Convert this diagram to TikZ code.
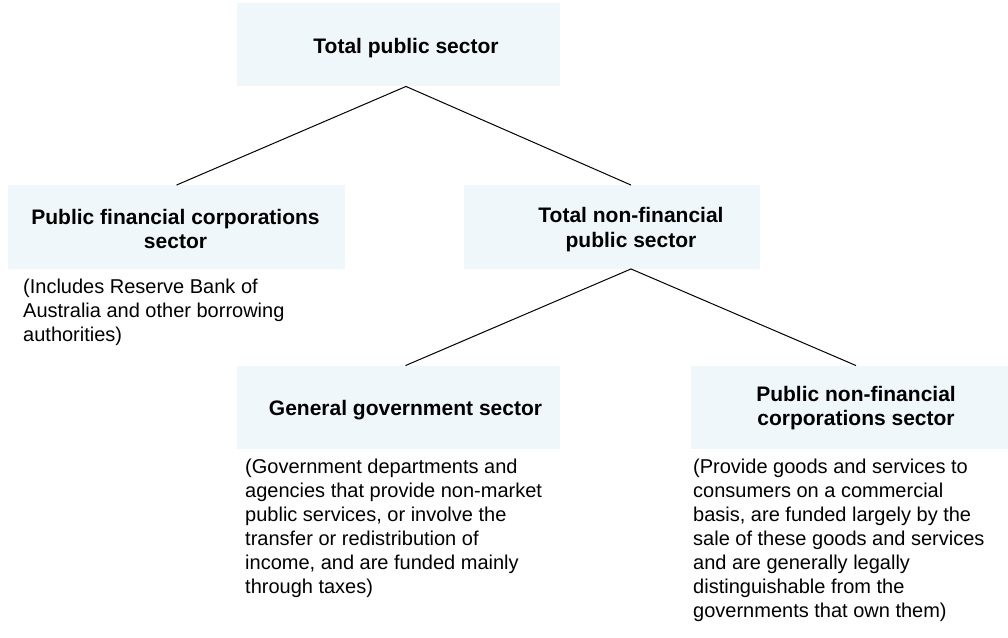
\documentclass[tikz,border=0pt]{standalone}
\usepackage{fontspec}
\setmainfont{Liberation Sans}
\definecolor{sectorfill}{RGB}{240,247,251}
\begin{document}
\begin{tikzpicture}[x=1pt,y=-1pt,
  sectorbox/.style={fill=sectorfill, draw=none, inner sep=0pt,
    minimum width=#1, minimum height=83.5pt},
  heading/.style={font=\bfseries\fontsize{21}{24.5}\selectfont,
    align=center, inner sep=0pt},
  note/.style={font=\fontsize{20}{24}\selectfont, align=left,
    anchor=north west, inner sep=0pt},
  link/.style={line width=1pt, black}]
\useasboundingbox (0,0) rectangle (1008,637);

% sector boxes
\node[sectorbox=323pt] (totbox) at (398.5,44.5) {};
\node[sectorbox=337pt] (pfcbox) at (176.5,227) {};
\node[sectorbox=296pt] (tnfbox) at (612,227) {};
\node[sectorbox=323pt] (ggsbox) at (398.5,407.5) {};
\node[sectorbox=317pt] (pnfbox) at (849.5,407.5) {};

% headings
\node[heading] (tot) at (406,48) {Total public sector};
\node[heading] (pfc) at (175.5,229) {Public financial corporations\\sector};
\node[heading] (tnf) at (631,229.5) {Total non-financial\\public sector};
\node[heading] (ggs) at (405.5,410) {General government sector};
\node[heading] (pnf) at (856,408) {Public non-financial\\corporations sector};

% descriptions
\node[note] (pfcnote) at (23,279) {(Includes Reserve Bank of\\Australia and other borrowing\\authorities)};
\node[note] (ggsnote) at (245,459) {(Government departments and\\agencies that provide non-market\\public services, or involve the\\transfer or redistribution of\\income, and are funded mainly\\through taxes)};
\node[note] (pnfnote) at (693,459) {(Provide goods and services to\\consumers on a commercial\\basis, are funded largely by the\\sale of these goods and services\\and are generally legally\\distinguishable from the\\governments that own them)};

% hierarchy links
\draw[link] (totbox.south -| tot) -- (pfcbox.north);
\draw[link] (totbox.south -| tot) -- (tnfbox.north -| tnf);
\draw[link] (tnfbox.south -| tnf) -- (ggsbox.north -| ggs);
\draw[link] (tnfbox.south -| tnf) -- (pnfbox.north -| pnf);
\end{tikzpicture}
\end{document}
